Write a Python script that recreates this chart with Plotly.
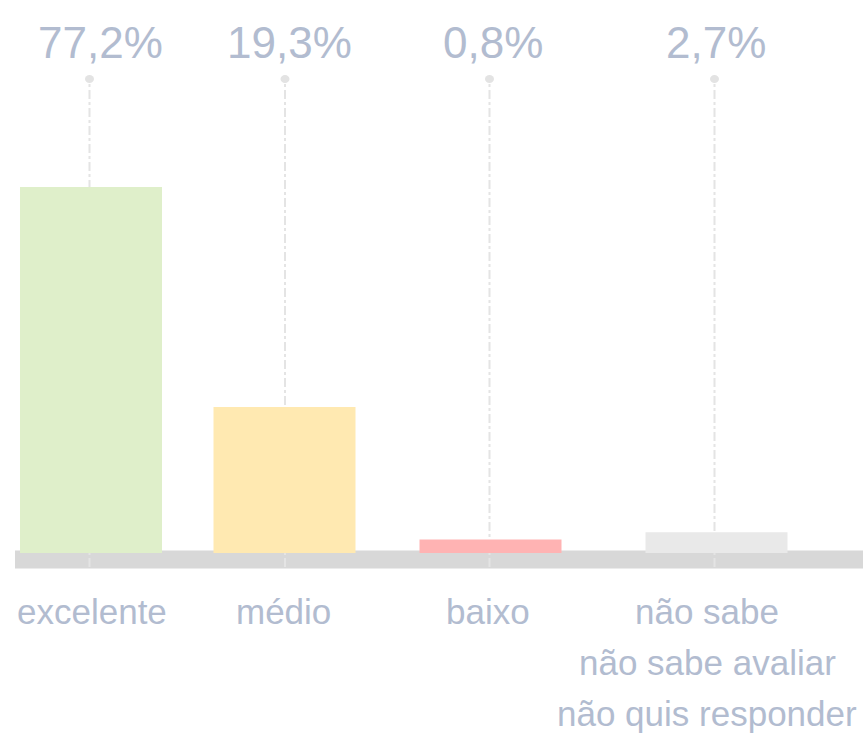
"""Bar chart of ratings (excelente / médio / baixo / não sabe)."""

import plotly.graph_objects as go

# ------------------------------------------------------------------
# data
categories = [
    ["excelente"],
    ["médio"],
    ["baixo"],
    ["não sabe", "não sabe avaliar", "não quis responder"],
]
percent_labels = ["77,2%", "19,3%", "0,8%", "2,7%"]
# bar heights as drawn (same scale as the 77,2% bar)
bar_heights = [77.2, 30.8, 2.85, 4.4]

# ------------------------------------------------------------------
# layout / style
W, H = 863, 738
BASE_PX = 553          # pixel row of value 0
PX_PER_UNIT = 4.741
x_pos = [91, 284.5, 490.5, 716.5]       # bar centres
line_x = [89.5, 285, 489.5, 714.5]      # dashed guide lines
pct_x = [100, 289, 493, 716]            # percent labels
cat_x = [92, 283, 488, 707]             # category labels
bar_colors = ["#dfefca", "#ffe9b1", "#ffb3b3", "#e9e9e9"]
text_color = "#b2bcd0"
font_family = "Liberation Sans, Arial, sans-serif"


def py(p):
    """Convert pixel row to y-axis value."""
    return (BASE_PX - p) / PX_PER_UNIT


fig = go.Figure()
fig.add_trace(go.Bar(
    x=x_pos,
    y=bar_heights,
    width=142,
    marker=dict(color=bar_colors, line=dict(width=0)),
    hoverinfo="skip",
))

shapes = [
    # grey baseline band
    dict(type="rect", xref="x", yref="y", x0=15, x1=W, y0=py(568.5), y1=py(550.5),
         fillcolor="#d8d8d8", line=dict(width=0), layer="below"),
]
for lx in line_x:
    shapes.append(dict(type="line", xref="x", yref="y", x0=lx, x1=lx,
                       y0=py(567), y1=py(80),
                       line=dict(color="#e4e4e4", width=2, dash="dashdot"),
                       layer="below"))
    shapes.append(dict(type="circle", xref="x", yref="y", x0=lx - 4.5, x1=lx + 4.5,
                       y0=py(83), y1=py(75), fillcolor="#e3e3e3",
                       line=dict(width=0), layer="below"))

annotations = []
for x, t in zip(pct_x, percent_labels):
    annotations.append(dict(x=x, y=py(42), xref="x", yref="y", text=t,
                            showarrow=False, xanchor="center", yanchor="middle",
                            font=dict(size=44, color=text_color, family=font_family)))
for x, lines in zip(cat_x, categories):
    for i, line in enumerate(lines):
        annotations.append(dict(x=x, y=py(611 + 51 * i), xref="x", yref="y",
                                text=line, showarrow=False,
                                xanchor="center", yanchor="middle",
                                font=dict(size=35, color=text_color,
                                          family=font_family)))

fig.update_layout(
    width=W,
    height=H,
    margin=dict(l=0, r=0, t=0, b=0),
    paper_bgcolor="white",
    plot_bgcolor="white",
    showlegend=False,
    shapes=shapes,
    annotations=annotations,
    xaxis=dict(range=[0, W], visible=False, fixedrange=True),
    yaxis=dict(range=[py(H), py(0)], visible=False, fixedrange=True),
)

fig.write_html("out.html", config={"displayModeBar": False},
               post_script="document.body.style.margin = '0';")
